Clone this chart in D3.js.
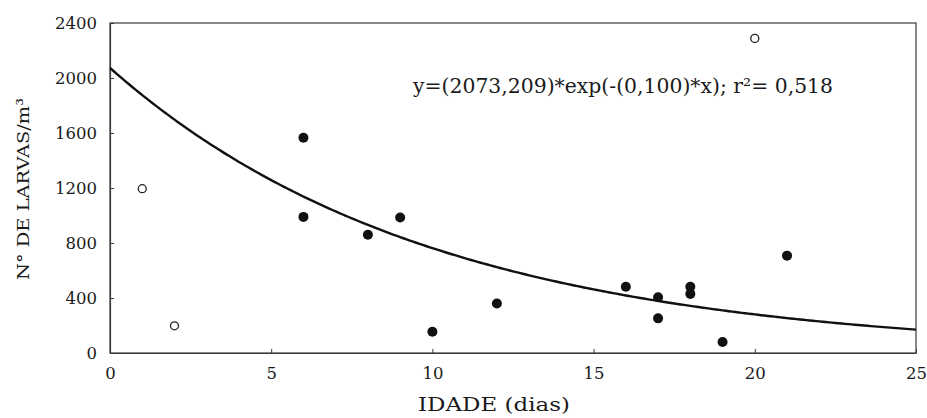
<!DOCTYPE html>
<html>
<head>
<meta charset="utf-8">
<script src="https://cdn.jsdelivr.net/npm/d3@7"></script>
<style>
  html, body { margin: 0; padding: 0; background: #ffffff; }
  svg { display: block; }
  text { font-family: "DejaVu Serif", "Liberation Serif", serif; fill: #1a1a1a; }
</style>
</head>
<body>
<svg id="chart" width="927" height="418"></svg>
<script>
// ---- data ----
const xTicks = [0, 5, 10, 15, 20, 25];
const yTicks = [0, 400, 800, 1200, 1600, 2000, 2400];

// filled points (idade, larvas)
const filledX = [6, 6, 8, 9, 10, 12, 16, 17, 17, 18, 18, 19, 21];
const filledY = [1565, 990, 860, 985, 155, 360, 482, 405, 252, 482, 430, 80, 708];

// open points (outliers)
const openX = [1, 2, 20];
const openY = [1195, 198, 2288];

// fitted exponential curve parameters: y = a * exp(-b * x)
const fitA = 2073.209;
const fitB = 0.100;
const equationLabel = "y=(2073,209)*exp(-(0,100)*x); r\u00B2= 0,518";
const xTitle = "IDADE (dias)";
const yTitle = "N\u00B0 DE LARVAS/m\u00B3";

// ---- layout ----
const svg = d3.select("#chart");
const mLeft = 110, mRight = 916, mTop = 23, mBottom = 353;
const serif = '"DejaVu Serif", "Liberation Serif", serif';
const serif2 = '"Liberation Serif", "DejaVu Serif", serif';

const x = d3.scaleLinear().domain([0, 25]).range([mLeft, mRight]);
const y = d3.scaleLinear().domain([0, 2400]).range([mBottom, mTop]);

// frame
svg.append("rect")
  .attr("x", mLeft).attr("y", mTop)
  .attr("width", mRight - mLeft).attr("height", mBottom - mTop)
  .attr("fill", "none").attr("stroke", "#3a3a3a").attr("stroke-width", 1.2);

// axes (ticks inward)
const xAxis = d3.axisBottom(x).tickValues(xTicks).tickFormat(d3.format("d"))
  .tickSizeInner(-4).tickSizeOuter(0).tickPadding(14);
const gx = svg.append("g").attr("transform", `translate(0,${mBottom})`).call(xAxis)
  .attr("font-family", null);
gx.select(".domain").attr("stroke", "#3a3a3a").attr("stroke-width", 1.2);
gx.selectAll(".tick line").attr("stroke", "#3a3a3a");
gx.selectAll("text").style("font-size", "16.5px").style("font-family", serif).style("fill", "#1a1a1a");

const yAxis = d3.axisLeft(y).tickValues(yTicks).tickFormat(d3.format("d"))
  .tickSizeInner(-4).tickSizeOuter(0).tickPadding(13);
const gy = svg.append("g").attr("transform", `translate(${mLeft},0)`).call(yAxis)
  .attr("font-family", null);
gy.select(".domain").attr("stroke", "#3a3a3a").attr("stroke-width", 1.2);
gy.selectAll(".tick line").attr("stroke", "#3a3a3a");
gy.selectAll("text").style("font-size", "16.5px").style("font-family", serif).style("fill", "#1a1a1a");

// fitted curve
const curveX = d3.range(0, 25.001, 0.1);
const line = d3.line().x(d => x(d)).y(d => y(fitA * Math.exp(-fitB * d)));
svg.append("path")
  .datum(curveX)
  .attr("d", line)
  .attr("fill", "none")
  .attr("stroke", "#111")
  .attr("stroke-width", 2.4);

// filled points
svg.append("g").selectAll("circle")
  .data(filledX.map((d, i) => [d, filledY[i]]))
  .join("circle")
  .attr("cx", d => x(d[0])).attr("cy", d => y(d[1]))
  .attr("r", 5).attr("fill", "#111");

// open points
svg.append("g").selectAll("circle")
  .data(openX.map((d, i) => [d, openY[i]]))
  .join("circle")
  .attr("cx", d => x(d[0])).attr("cy", d => y(d[1]))
  .attr("r", 4).attr("fill", "#fff").attr("stroke", "#222").attr("stroke-width", 1.3);

// equation
svg.append("text")
  .attr("x", 413).attr("y", 93)
  .style("font-size", "20px")
  .style("font-family", serif)
  .attr("textLength", 420).attr("lengthAdjust", "spacingAndGlyphs")
  .text(equationLabel);

// axis titles
svg.append("text")
  .attr("x", 418).attr("y", 411)
  .style("font-size", "19px")
  .style("font-family", serif)
  .attr("textLength", 152).attr("lengthAdjust", "spacingAndGlyphs")
  .text(xTitle);

svg.append("text")
  .attr("transform", "translate(29,280) rotate(-90)")
  .style("font-size", "17px")
  .style("font-family", serif)
  .attr("textLength", 182).attr("lengthAdjust", "spacingAndGlyphs")
  .text(yTitle);
</script>
</body>
</html>
